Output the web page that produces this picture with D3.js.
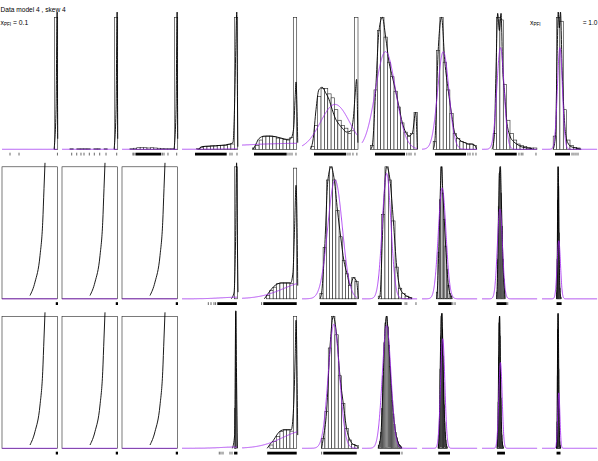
<!DOCTYPE html>
<html>
<head>
<meta charset="utf-8">
<script src="https://cdn.jsdelivr.net/npm/d3@7"></script>
<style>
  body { margin: 0; background: #fff; }
  svg { display: block; }
  text { font-family: "Liberation Sans", Arial, sans-serif; fill: #000; }
</style>
</head>
<body>
<div class="vis-holder"></div>
<script>
const width = 598;
const height = 461;

// 3 rows x 10 columns of panels, row-major. x and y are in panel units (0..1).
const binFrom = [
  0.934, 0.141, 0.141, 0.263, 0.184, 0.16, 0.155, 0.2, 0.2, 0.2,
  0, 0, 0, 0.934, 0.437, 0.32, 0.29, 0.26, 0.26, 0.26,
  0, 0, 0, 0.94, 0.497, 0.35, 0.29, 0.29, 0.27, 0.26
];
const binStep = [
  0.061, 0.061, 0.061, 0.061, 0.061, 0.06, 0.0595, 0.0595, 0.06, 0.06,
  0.99, 0.99, 0.99, 0.054, 0.06, 0.057, 0.06, 0.025, 0.015, 0.008,
  0.99, 0.99, 0.99, 0.012, 0.06, 0.0595, 0.02, 0.01, 0.008, 0.006
];
const binHeights = [
  [1],
  [0.004, 0, 0.004, 0.004, 0.004, 0.004, 0, 0.004, 0.004, 0, 0.004, 0, 0, 1],
  [0.004, 0.008, 0.012, 0.015, 0.012, 0.01, 0.012, 0.01, 0.008, 0.006, 0.004, 0.004, 0.004, 1],
  [0.005, 0.015, 0.02, 0.022, 0.025, 0.025, 0.028, 0.03, 0.03, 0.035, 0.04, 1],
  [0.01, 0.03, 0.07, 0.095, 0.1, 0.1, 0.095, 0.085, 0.08, 0.075, 0.07, 0.09, 1],
  [0.02, 0.18, 0.40, 0.46, 0.46, 0.42, 0.39, 0.30, 0.22, 0.18, 0.16, 0.12, 0.14, 1],
  [0.03, 0.45, 0.9, 1.0, 0.85, 0.66, 0.55, 0.44, 0.32, 0.2, 0.13, 0.1, 0.12, 0.28],
  [0.06, 0.75, 1.0, 0.66, 0.45, 0.27, 0.12, 0.083, 0.06, 0.05, 0.04, 0.04, 0.03],
  [0.12, 1.0, 0.98, 0.49, 0.22, 0.12, 0.07, 0.04, 0.03, 0.02, 0.015, 0.01, 0.01],
  [0.1, 1.0, 0.97, 0.3, 0.07, 0.03, 0.015, 0.01],

  [1], [1], [1],
  [1],
  [0.025, 0.063, 0.088, 0.114, 0.12, 0.12, 0.12, 0.114, 0.99],
  [0.04, 0.39, 0.9, 1.0, 0.9, 0.67, 0.47, 0.29, 0.19, 0.10, 0.16, 0.13],
  [0.02, 0.64, 1.0, 0.9, 0.59, 0.24, 0.08, 0.04, 0.02, 0.01],
  [0.05, 0.35, 0.75, 1.0, 0.8, 0.6, 0.4, 0.22, 0.1, 0.04, 0.02],
  [0.05, 0.3, 0.7, 0.95, 1.0, 0.8, 0.55, 0.3, 0.15, 0.06],
  [0.05, 0.3, 0.75, 1.0, 0.85, 0.5, 0.2, 0.08, 0.03, 0.01],

  [1], [1], [1],
  [0.3, 1.04, 0.6],
  [0.025, 0.05, 0.088, 0.126, 0.14, 0.14, 0.13, 1.0],
  [0.076, 0.28, 0.76, 1.0, 0.86, 0.55, 0.34, 0.15, 0.063, 0.03, 0.02],
  [0.02, 0.05, 0.12, 0.3, 0.55, 0.8, 0.95, 1.0, 0.92, 0.78, 0.62, 0.48, 0.36, 0.26, 0.18, 0.12, 0.08, 0.05, 0.03, 0.02, 0.01],
  [0.03, 0.1, 0.3, 0.6, 0.85, 1.0, 1.02, 0.9, 0.7, 0.5, 0.33, 0.2, 0.12, 0.06, 0.03, 0.01],
  [0.03, 0.12, 0.35, 0.7, 0.95, 1.0, 0.85, 0.6, 0.38, 0.2, 0.1, 0.05, 0.02, 0.01],
  [0.05, 0.2, 0.55, 0.9, 1.02, 0.9, 0.6, 0.3, 0.12, 0.05, 0.02, 0.01]
];

// density estimate (black); null = trace it through the bin tops
const edgeSpike = [[0.93, 0], [0.965, 0.3], [0.985, 1.04], [0.99, 0.5], [0.995, 0.08]];
const boxCurve = [[0.5, 0.025], [0.589, 0.126], [0.679, 0.328], [0.727, 0.58], [0.75, 0.835], [0.768, 1.03]];
const kdePoints = [
  edgeSpike, edgeSpike, edgeSpike,
  [[0.3, 0], [0.35, 0.02], [0.5, 0.025], [0.7, 0.03], [0.85, 0.04], [0.91, 0.05], [0.94, 0.35], [0.96, 0.75], [0.978, 1.04], [0.99, 0.4], [0.997, 0.02]],
  [[0.2, 0], [0.25, 0.04], [0.3, 0.08], [0.4, 0.1], [0.5, 0.1], [0.6, 0.095], [0.7, 0.085], [0.8, 0.075], [0.87, 0.08], [0.92, 0.15], [0.95, 0.4], [0.965, 0.51], [0.98, 0.35], [0.995, 0.05]],
  [[0.15, 0], [0.2, 0.08], [0.25, 0.3], [0.3, 0.45], [0.36, 0.47], [0.42, 0.43], [0.48, 0.38], [0.54, 0.3], [0.6, 0.23], [0.66, 0.19], [0.72, 0.16], [0.8, 0.13], [0.87, 0.14], [0.92, 0.25], [0.955, 0.45], [0.975, 0.53], [0.99, 0.3], [0.998, 0.05]],
  null, null,
  [[0.18, 0], [0.22, 0.1], [0.25, 0.6], [0.28, 1.03], [0.31, 0.9], [0.34, 1.03], [0.37, 0.6], [0.4, 0.45], [0.44, 0.22], [0.5, 0.1], [0.56, 0.06], [0.62, 0.04], [0.7, 0.02], [0.8, 0.01], [0.9, 0.005]],
  [[0.2, 0], [0.24, 0.1], [0.27, 0.7], [0.29, 1.04], [0.31, 0.92], [0.33, 1.04], [0.36, 0.6], [0.39, 0.3], [0.42, 0.12], [0.46, 0.05], [0.52, 0.02], [0.6, 0.01], [0.7, 0]],

  boxCurve, boxCurve, boxCurve,
  [[0.88, 0], [0.93, 0.05], [0.955, 0.4], [0.975, 1.03], [0.99, 0.4], [1.0, 0.05]],
  [[0.4, 0], [0.45, 0.03], [0.5, 0.06], [0.56, 0.09], [0.62, 0.11], [0.7, 0.12], [0.8, 0.12], [0.87, 0.12], [0.91, 0.2], [0.94, 0.55], [0.965, 0.86], [0.985, 0.5], [0.995, 0.1]],
  null, null, null, null, null,

  boxCurve, boxCurve, boxCurve,
  [[0.9, 0], [0.94, 0.1], [0.96, 1.04], [0.975, 0.5], [0.99, 0]],
  [[0.45, 0], [0.5, 0.03], [0.56, 0.06], [0.62, 0.1], [0.68, 0.13], [0.75, 0.14], [0.82, 0.14], [0.88, 0.14], [0.92, 0.3], [0.95, 0.7], [0.965, 0.97], [0.985, 0.5], [0.995, 0.1]],
  null, null, null, null, null
];

// fitted normal (purple): mean, sd, peak height
const fitMean = [
  0.5, 0.5, 0.5, 1.2, 1.0, 0.59, 0.42, 0.38, 0.33, 0.32,
  0.5, 0.5, 0.5, 1.0, 1.2, 0.59, 0.44, 0.36, 0.32, 0.30,
  0.5, 0.5, 0.5, 1.0, 1.15, 0.57, 0.44, 0.37, 0.33, 0.30
];
const fitSd = [
  0.3, 0.3, 0.3, 0.4, 1.2, 0.26, 0.18, 0.1, 0.065, 0.045,
  0.3, 0.3, 0.3, 0.3, 0.45, 0.13, 0.077, 0.068, 0.045, 0.03,
  0.3, 0.3, 0.3, 0.3, 0.42, 0.1, 0.077, 0.038, 0.03, 0.02
];
const fitPeak = [
  0, 0, 0, 0.005, 0.045, 0.34, 0.74, 0.74, 0.77, 0.77,
  0, 0, 0, 0.012, 0.13, 0.9, 0.95, 0.84, 0.68, 0.44,
  0, 0, 0, 0.01, 0.135, 0.94, 0.93, 0.83, 0.65, 0.42
];

// rug: dense band [from, to] and single ticks
const rugBand = [
  null, null, [0.24, 0.7], [0.232, 0.798], [0.214, 0.798], [0.214, 0.79], [0.232, 0.768], [0.232, 0.786], [0.232, 0.62], [0.232, 0.5],
  [0.96, 1.0], [0.96, 1.0], [0.96, 1.0], [0.63, 0.98], [0.38, 0.977], [0.32, 0.977], [0.29, 0.71], [0.29, 0.53], [0.26, 0.44], [0.26, 0.35],
  [0.96, 1.0], [0.96, 1.0], [0.96, 1.0], [0.93, 0.99], [0.45, 0.977], [0.38, 0.977], [0.32, 0.68], [0.29, 0.5], [0.27, 0.41], [0.26, 0.33]
];
const rugTicks = [
  [0.143, 0.304, 0.99],
  [0.173, 0.263, 0.339, 0.393, 0.488, 0.577, 0.673, 0.786, 0.977],
  [0.196, 0.215, 0.72, 0.75, 0.821, 0.977],
  [0.857, 0.893, 0.982],
  [0.821, 0.857, 0.893, 0.964],
  [0.821, 0.857, 0.91, 0.98],
  [0.8, 0.84, 0.875, 0.946],
  [0.82, 0.857, 0.91, 0.964],
  [0.66, 0.7, 0.73, 0.964],
  [0.536, 0.571, 0.607, 0.643],
  [], [], [], [0.47, 0.518, 0.571, 0.6], [0.35], [], [0.77, 0.8, 0.964], [0.55, 0.59], [0.46], [],
  [], [], [], [0.666, 0.696, 0.732, 0.857, 0.893], [], [0.35], [0.714], [], [], []
];

const svg = d3.select(".vis-holder").append("svg")
    .attr("width", width)
    .attr("height", height);

const panelW = 56;
const panelH = 132;
const rowTop = [17.3, 166.8, 316.3];
const purple = "#a020f0";

d3.range(30).forEach(function(i) {
    const r = Math.floor(i / 10);
    const c = i % 10;
    const x = d3.scaleLinear().domain([0, 1]).range([2 + 60 * c, 2 + 60 * c + panelW]);
    const y = d3.scaleLinear().domain([0, 1]).range([rowTop[r] + panelH, rowTop[r]]);
    const g = svg.append("g");

    const bins = binHeights[i].map((v, k) => ({
        x0: binFrom[i] + k * binStep[i],
        x1: binFrom[i] + (k + 1) * binStep[i],
        v: v
    }));

    g.selectAll("rect.bar")
        .data(bins.filter(d => d.v > 0))
        .enter().append("rect")
        .attr("class", "bar")
        .attr("x", d => x(d.x0))
        .attr("width", d => x(d.x1) - x(d.x0))
        .attr("y", d => y(d.v))
        .attr("height", d => y(0) - y(d.v))
        .attr("fill", "white")
        .attr("stroke", "#222")
        .attr("stroke-width", 0.6);

    // density line
    let pts = kdePoints[i];
    if (!pts) {
        pts = [[binFrom[i], 0]]
            .concat(bins.map(d => [(d.x0 + d.x1) / 2, d.v]))
            .concat([[binFrom[i] + bins.length * binStep[i], 0]]);
    }
    g.append("path")
        .datum(pts)
        .attr("d", d3.line().x(d => x(d[0])).y(d => y(d[1])).curve(d3.curveMonotoneX))
        .attr("fill", "none")
        .attr("stroke", "#000")
        .attr("stroke-width", 0.9);

    // fitted normal
    const mu = fitMean[i], sd = fitSd[i], pk = fitPeak[i];
    const fit = d3.range(0, 0.9851, 0.002).map(u => [u, pk * Math.exp(-0.5 * Math.pow((u - mu) / sd, 2))]);
    g.append("path")
        .datum(fit)
        .attr("d", d3.line().x(d => x(d[0])).y(d => y(d[1])))
        .attr("fill", "none")
        .attr("stroke", purple)
        .attr("stroke-width", 0.8);

    // rug
    const rugY = rowTop[r] + panelH + 3.4;
    if (rugBand[i]) {
        g.append("rect")
            .attr("x", x(rugBand[i][0]))
            .attr("width", x(rugBand[i][1]) - x(rugBand[i][0]))
            .attr("y", rugY)
            .attr("height", 2.8)
            .attr("fill", "#000");
    }
    g.selectAll("line.rug")
        .data(rugTicks[i])
        .enter().append("line")
        .attr("class", "rug")
        .attr("x1", d => x(d)).attr("x2", d => x(d))
        .attr("y1", rugY).attr("y2", rugY + 2.8)
        .attr("stroke", "#000")
        .attr("stroke-width", 0.6);
});

svg.append("text")
    .attr("x", 0.5).attr("y", 12)
    .attr("font-size", 6.6)
    .text("Data model 4 , skew 4");

const leftLab = svg.append("text").attr("x", 0.5).attr("y", 25).attr("font-size", 6.8);
leftLab.append("tspan").text("x");
leftLab.append("tspan").attr("font-size", 4.6).attr("dy", 1.3).text("PFI");
leftLab.append("tspan").attr("dy", -1.3).text(" = 0.1");

const rightLab = svg.append("text").attr("x", 530).attr("y", 24.7).attr("font-size", 6.8);
rightLab.append("tspan").text("x");
rightLab.append("tspan").attr("font-size", 4.6).attr("dy", 1.3).text("PFI");

svg.append("text")
    .attr("x", 582.7).attr("y", 24.7)
    .attr("font-size", 6.6)
    .text("= 1.0");
</script>
</body>
</html>
